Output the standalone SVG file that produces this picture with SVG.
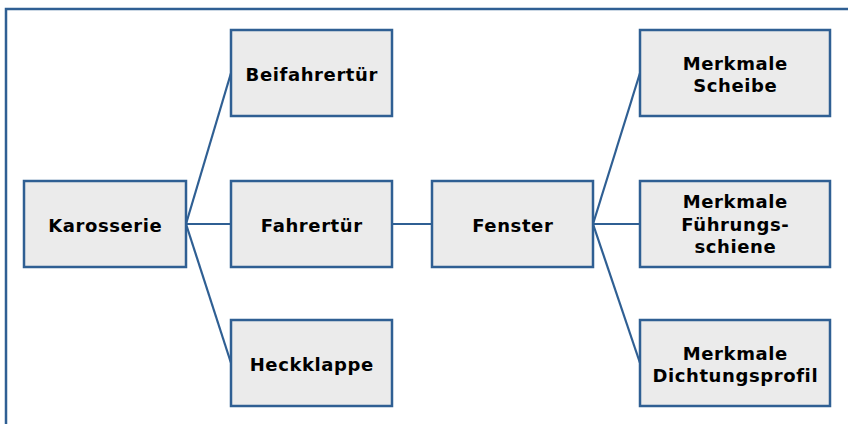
<svg xmlns="http://www.w3.org/2000/svg" width="848" height="424" viewBox="0 0 848 424">
  <style>
    .frame { fill: none; stroke: #2f5f93; stroke-width: 2.5; }
    .box { fill: #ebebeb; stroke: #2f5f93; stroke-width: 2.5; }
    .edge { fill: none; stroke: #2f5f93; stroke-width: 2.2; }
    .label { font-family: "DejaVu Sans", Verdana, sans-serif; font-weight: bold; font-size: 18px; letter-spacing: 0.6px; fill: #000; text-anchor: middle; }
  </style>
  <rect width="848" height="424" fill="#ffffff"/>
  <!-- outer frame, open to the right and bottom -->
  <path class="frame" d="M6,426 V9 H850"/>

  <g id="connectors">
    <line class="edge" x1="186" y1="224" x2="231" y2="73"/>
    <line class="edge" x1="186" y1="224" x2="231" y2="224"/>
    <line class="edge" x1="186" y1="224" x2="231" y2="363"/>
    <line class="edge" x1="392" y1="224" x2="432" y2="224"/>
    <line class="edge" x1="593" y1="224" x2="640" y2="73"/>
    <line class="edge" x1="593" y1="224" x2="640" y2="224"/>
    <line class="edge" x1="593" y1="224" x2="640" y2="363"/>
  </g>

  <g id="karosserie">
    <rect class="box" x="24" y="181" width="162" height="86"/>
    <text class="label" x="105.3" y="231.5">Karosserie</text>
  </g>
  <g id="beifahrertuer">
    <rect class="box" x="231" y="30" width="161" height="86"/>
    <text class="label" x="311.8" y="81">Beifahrertür</text>
  </g>
  <g id="fahrertuer">
    <rect class="box" x="231" y="181" width="161" height="86"/>
    <text class="label" x="311.8" y="231.5">Fahrertür</text>
  </g>
  <g id="heckklappe">
    <rect class="box" x="231" y="320" width="161" height="86"/>
    <text class="label" x="311.8" y="370.5">Heckklappe</text>
  </g>
  <g id="fenster">
    <rect class="box" x="432" y="181" width="161" height="86"/>
    <text class="label" x="512.8" y="231.5">Fenster</text>
  </g>
  <g id="merkmale-scheibe">
    <rect class="box" x="640" y="30" width="190" height="86"/>
    <text class="label" x="735.3" y="69.5">Merkmale</text>
    <text class="label" x="735.3" y="92">Scheibe</text>
  </g>
  <g id="merkmale-fuehrungsschiene">
    <rect class="box" x="640" y="181" width="190" height="86"/>
    <text class="label" x="735.3" y="208">Merkmale</text>
    <text class="label" x="735.3" y="230.5">Führungs-</text>
    <text class="label" x="735.3" y="253">schiene</text>
  </g>
  <g id="merkmale-dichtungsprofil">
    <rect class="box" x="640" y="320" width="190" height="86"/>
    <text class="label" x="735.3" y="359.5">Merkmale</text>
    <text class="label" x="735.3" y="382">Dichtungsprofil</text>
  </g>
</svg>
